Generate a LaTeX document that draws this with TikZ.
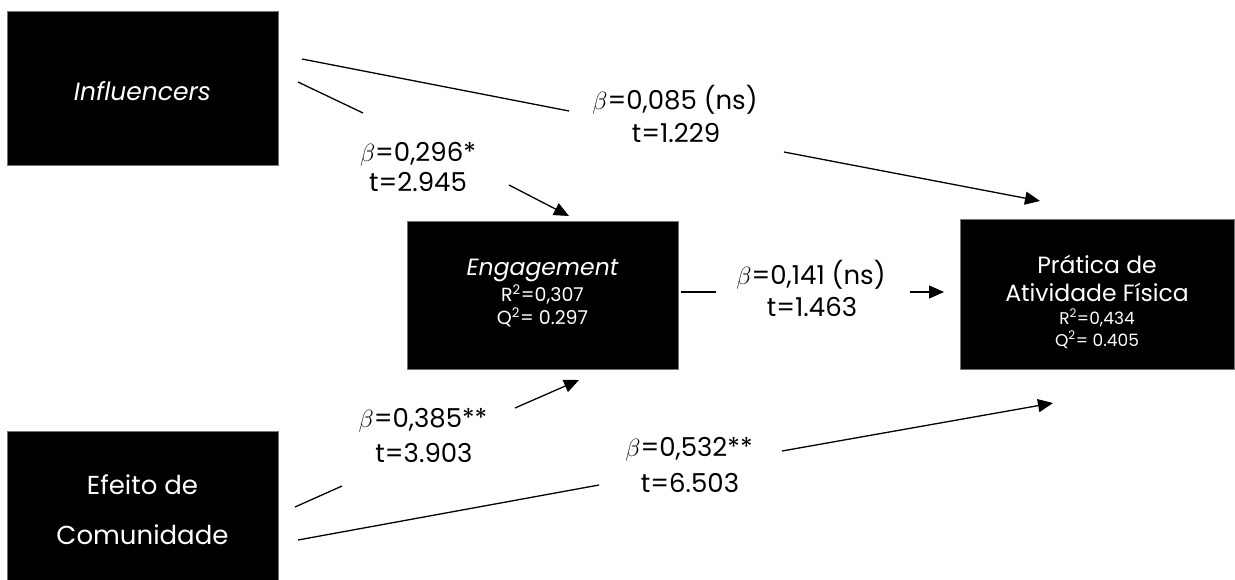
\documentclass[tikz,border=0pt]{standalone}
\usepackage{fontspec}
\setmainfont{Poppins}
\usetikzlibrary{arrows.meta}
\newcommand{\sqr}{\textsuperscript{2}}

\begin{document}
\begin{tikzpicture}[x=1pt, y=-1pt,
  box/.style={fill=black, draw=black!55, line width=0.8pt, inner sep=0pt,
              anchor=north west, minimum width=271pt},
  big/.style={text=white, anchor=base, inner sep=0pt, font=\fontsize{23.5}{28}\selectfont},
  stat/.style={text=white, anchor=base, inner sep=0pt, font=\fontsize{19}{23}\selectfont},
  lbl/.style={text=black, anchor=base, inner sep=0pt, font=\fontsize{26}{31}\selectfont},
  link/.style={line width=1.3pt, draw=black},
  arr/.style={link, -{Triangle[length=15pt, width=13pt]}}]

  \useasboundingbox (0,0) rectangle (1235,579);

  % construct boxes
  \node[box, minimum height=154pt] (inf) at (7,11) {};
  \node[box, minimum height=148pt] (eng) at (407,221) {};
  \node[box, minimum height=150pt, minimum width=274pt] (pra) at (960,219) {};
  \node[box, minimum height=160pt] (efe) at (7,431) {};

  % box captions
  \node[big, font=\fontsize{25}{28}\selectfont\itshape] (inf-t) at (142.5,100) {Influencers};

  \node[big, font=\fontsize{23.5}{28}\selectfont\itshape] (eng-t1) at (542.5,275.5) {Engagement};
  \node[stat] (eng-t2) at (542.5,301) {R\sqr=0,307};
  \node[stat] (eng-t3) at (542.5,324) {Q\sqr= 0.297};

  \node[big] (pra-t1) at (1097,273.5) {Prática de};
  \node[big] (pra-t2) at (1097,301.5) {Atividade Física};
  \node[stat, font=\fontsize{17}{20}\selectfont] (pra-t3) at (1097,324) {R\sqr=0,434};
  \node[stat, font=\fontsize{17}{20}\selectfont] (pra-t4) at (1097,346) {Q\sqr= 0.405};

  \node[big, font=\fontsize{26}{28}\selectfont] (efe-t1) at (142.5,494) {Efeito de};
  \node[big, font=\fontsize{26}{28}\selectfont] (efe-t2) at (142.5,544) {Comunidade};

  % path coefficients
  \node[lbl] (b1) at (418,161) {$\beta$=0,296*};
  \node[lbl] (t1) at (418,191) {t=2.945};
  \node[lbl] (b2) at (675,109) {$\beta$=0,085 (ns)};
  \node[lbl] (t2) at (676,142) {t=1.229};
  \node[lbl] (b3) at (811,284) {$\beta$=0,141 (ns)};
  \node[lbl] (t3) at (812,316) {t=1.463};
  \node[lbl] (b4) at (423,427) {$\beta$=0,385**};
  \node[lbl] (t4) at (424,462) {t=3.903};
  \node[lbl] (b5) at (689,456) {$\beta$=0,532**};
  \node[lbl] (t5) at (690,492) {t=6.503};

  % connector end points around the labels
  \coordinate (ie1) at (298,82);   \coordinate (ie2) at (363,113);
  \coordinate (ie3) at (509,185);  \coordinate (ie4) at (569,216);
  \coordinate (ip1) at (302,59);   \coordinate (ip2) at (569,111);
  \coordinate (ip3) at (784,152);  \coordinate (ip4) at (1040,201);
  \coordinate (ep1) at (681,292);  \coordinate (ep2) at (716,292);
  \coordinate (ep3) at (910,292);  \coordinate (ep4) at (944,292);
  \coordinate (ce1) at (295,507);  \coordinate (ce2) at (342,486);
  \coordinate (ce3) at (515,408);  \coordinate (ce4) at (579,380);
  \coordinate (cp1) at (298,540);  \coordinate (cp2) at (599,485);
  \coordinate (cp3) at (782,451);  \coordinate (cp4) at (1053,403);

  % Influencers -> Engagement
  \draw[link] (ie1) -- (ie2);
  \draw[arr]  (ie3) -- (ie4);
  % Influencers -> Pratica
  \draw[link] (ip1) -- (ip2);
  \draw[arr]  (ip3) -- (ip4);
  % Engagement -> Pratica
  \draw[link] (ep1) -- (ep2);
  \draw[arr]  (ep3) -- (ep4);
  % Efeito de Comunidade -> Engagement
  \draw[link] (ce1) -- (ce2);
  \draw[arr]  (ce3) -- (ce4);
  % Efeito de Comunidade -> Pratica
  \draw[link] (cp1) -- (cp2);
  \draw[arr]  (cp3) -- (cp4);
\end{tikzpicture}
\end{document}
